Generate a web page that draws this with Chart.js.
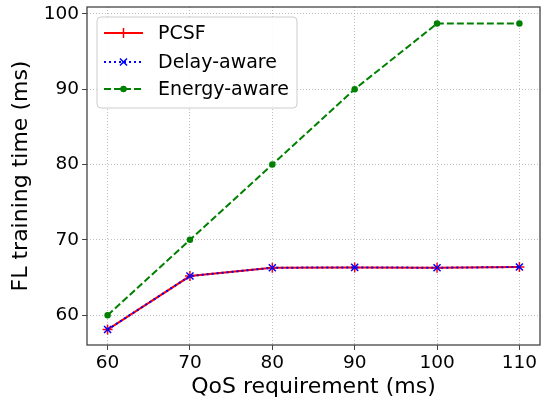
<!DOCTYPE html>
<html>
<head>
<meta charset="utf-8">
<script src="https://cdn.jsdelivr.net/npm/chart.js@4"></script>
<style>
  html, body { margin: 0; padding: 0; background: #fff; }
  #wrap { width: 544px; height: 406px; }
</style>
</head>
<body>
<div id="wrap"><canvas id="flChart" width="544" height="406"></canvas></div>
<script>
// values
const qosLevels = [60, 70, 80, 90, 100, 110];
const pcsfTime = [58.1, 65.2, 66.3, 66.35, 66.3, 66.4];
const delayAwareTime = [58.1, 65.2, 66.3, 66.35, 66.3, 66.4];
const energyAwareTime = [60.0, 70.0, 80.0, 90.0, 98.7, 98.7];
const xTicks = [60, 70, 80, 90, 100, 110];
const yTicks = [60, 70, 80, 90, 100];

const FONT = "'DejaVu Sans', sans-serif";

function toPoints(vals) {
    return qosLevels.map((q, i) => ({ x: q, y: vals[i] }));
}

const series = [
    { label: "PCSF", data: pcsfTime, color: "#ff0000", dash: [], style: "cross", radius: 5, order: 3 },
    { label: "Delay-aware", data: delayAwareTime, color: "#0000ff", dash: [2, 3], style: "crossRot", radius: 5, order: 2 },
    { label: "Energy-aware", data: energyAwareTime, color: "#008000", dash: [7, 3], style: "circle", radius: 2.5, order: 1 }
];

// legend box drawn inside the plot area, top-left, and the four spines
const frameAndLegend = {
    id: "frameAndLegend",
    afterDatasetsDraw(chart) {
        const ctx = chart.ctx;
        const a = chart.chartArea;
        ctx.save();
        ctx.strokeStyle = "#444";
        ctx.lineWidth = 1.3;
        ctx.strokeRect(a.left, a.top, a.right - a.left, a.bottom - a.top);

        const bx = 97, by = 17, bw = 200, bh = 91;
        ctx.fillStyle = "rgba(255,255,255,0.85)";
        ctx.strokeStyle = "#cccccc";
        ctx.lineWidth = 1;
        ctx.beginPath();
        ctx.roundRect(bx, by, bw, bh, 4);
        ctx.fill();
        ctx.stroke();

        const rows = [33, 62, 89];
        series.forEach((s, i) => {
            const y = rows[i];
            ctx.strokeStyle = s.color;
            ctx.lineWidth = 2;
            ctx.setLineDash(s.dash);
            ctx.beginPath();
            ctx.moveTo(104, y);
            ctx.lineTo(143, y);
            ctx.stroke();
            ctx.setLineDash([]);
            ctx.fillStyle = s.color;
            ctx.strokeStyle = s.color;
            ctx.lineWidth = 1.5;
            Chart.helpers.drawPoint(ctx, { pointStyle: s.style, radius: s.radius, rotation: 0, borderWidth: 1.5 }, 123.5, y);
            ctx.fillStyle = "#000";
            ctx.font = "19px " + FONT;
            ctx.textBaseline = "middle";
            ctx.textAlign = "left";
            ctx.fillText(s.label, 158, y + 1);
        });
        ctx.restore();
    }
};

new Chart(document.getElementById("flChart").getContext("2d"), {
    type: "line",
    data: {
        datasets: series.map(s => ({
            label: s.label,
            data: toPoints(s.data),
            borderColor: s.color,
            backgroundColor: s.color,
            borderWidth: 2,
            borderDash: s.dash,
            pointStyle: s.style,
            pointRadius: s.radius,
            pointBorderWidth: 1.5,
            pointBorderColor: s.color,
            pointBackgroundColor: s.color,
            tension: 0,
            fill: false,
            order: s.order
        }))
    },
    options: {
        responsive: false,
        animation: false,
        events: [],
        layout: { autoPadding: false, padding: { top: 7, right: 4, left: 0, bottom: 0 } },
        plugins: {
            legend: { display: false },
            tooltip: { enabled: false }
        },
        scales: {
            x: {
                type: "linear",
                min: 57.5,
                max: 112.5,
                afterBuildTicks: axis => { axis.ticks = xTicks.map(v => ({ value: v })); },
                afterFit: axis => { axis.height = 61; axis.paddingLeft = 0; axis.paddingRight = 0; },
                ticks: { color: "#000", font: { family: FONT, size: 18.5 }, padding: 2, maxRotation: 0 },
                grid: { color: "#b0b0b0", lineWidth: 0.8, tickColor: "#444", tickLength: 5, tickWidth: 1, tickBorderDash: [] },
                border: { display: false, dash: [1, 2] },
                title: { display: true, text: "QoS requirement (ms)", color: "#000", font: { family: FONT, size: 22 }, padding: { top: 0, bottom: 6 } }
            },
            y: {
                min: 56.05,
                max: 100.9,
                afterBuildTicks: axis => { axis.ticks = yTicks.map(v => ({ value: v })); },
                afterFit: axis => { axis.width = 87; axis.paddingTop = 0; axis.paddingBottom = 0; },
                ticks: { color: "#000", font: { family: FONT, size: 18.5 }, padding: 3 },
                grid: { color: "#b0b0b0", lineWidth: 0.8, tickColor: "#444", tickLength: 5, tickWidth: 1, tickBorderDash: [] },
                border: { display: false, dash: [1, 2] },
                title: { display: true, text: "FL training time (ms)", color: "#000", font: { family: FONT, size: 22 }, padding: { top: 8, bottom: 2 } }
            }
        }
    },
    plugins: [frameAndLegend]
});
</script>
</body>
</html>
